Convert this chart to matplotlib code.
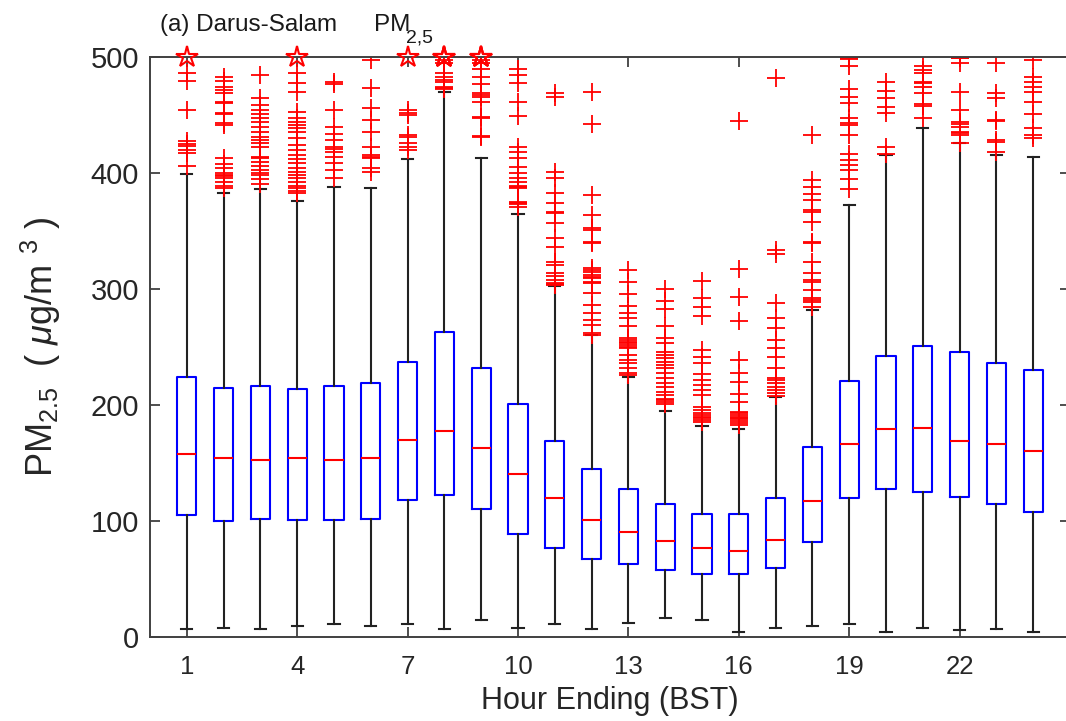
import matplotlib
matplotlib.use("Agg")
import matplotlib.pyplot as plt

plt.rcParams['font.family'] = ['Liberation Sans', 'DejaVu Sans']
plt.rcParams['mathtext.fontset'] = 'custom'
plt.rcParams['mathtext.rm'] = 'Liberation Sans'
plt.rcParams['mathtext.it'] = 'Liberation Sans:italic'

# hourly PM2.5 box statistics (ug/m3)
hours = list(range(1, 25))
med = [158, 154, 152.6, 154, 152.6, 154, 170, 178, 163, 140.5, 119.8, 100.9,
       90.5, 82.5, 77, 74.4, 83.6, 116.9, 166, 179, 180.5, 168.7, 166, 160.6]
q1 = [105, 100, 102, 101, 101, 102, 118, 122, 110, 89, 77, 67.5,
      62.6, 58, 54.6, 54.6, 59.8, 82.2, 119.5, 127.6, 124.7, 120.7, 115, 107.5]
q3 = [224, 215, 216, 213.5, 216, 219, 237, 263, 232, 200.6, 168.7, 144.8,
      127.6, 114.4, 106.3, 106.3, 119.8, 163.5, 221, 242, 251, 246, 236, 230]
whis_lo = [7, 8, 7, 9.5, 11, 9.5, 11, 7, 15, 8, 11, 7,
           12.4, 16, 15, 4, 8, 9.5, 11, 4, 8, 5.7, 7, 4]
whis_hi = [399, 383, 386, 376, 388, 387, 412, 470, 413, 365, 302.6, 260,
           224.4, 195, 182, 179, 207, 281.6, 372, 415.5, 439, 426, 415.5, 414]

# outliers per hour
fliers = [
    [486, 479, 454, 428, 425, 423, 420, 417, 406],
    [483, 479, 474, 471.6, 468.7, 461.5, 460, 452, 451, 443, 441, 412.6, 408,
     404, 400, 398, 397, 395.5, 392.5, 389, 387.5],
    [484.5, 464.4, 458.6, 454.3, 451, 447, 444, 439.4, 435.6, 431.3, 428.4,
     425.6, 422.7, 414, 412.6, 409.8, 406, 402.6, 399.7, 398.3, 394.5, 390.5],
    [486, 478, 470, 452.9, 447, 444, 441, 438.5, 435.6, 430, 424, 419.9, 415.5,
     411.8, 408.3, 404, 401, 398.3, 395.4, 392.5, 388.8, 386.8, 384.8, 382.5],
    [478.7, 476.7, 454.3, 440, 434, 428.4, 422.7, 420.4, 418.4, 414, 408.4,
     402.6, 395.4],
    [497.4, 473, 455.8, 445.7, 435.6, 422.7, 415.5, 414, 412.6, 404, 401],
    [454.3, 452, 450, 432.8, 431.3, 425.6, 422.7, 419.8],
    [497.4, 494.5, 486, 483, 480, 478.7, 474.4, 473, 472],
    [497.4, 494.5, 490, 483, 477, 468.7, 467, 465.8, 461.5, 448, 447, 432,
     431.3],
    [490, 484.5, 477.3, 461.5, 449, 422.7, 418.4, 412.6, 404.9, 399.7, 395.4,
     392.5, 389, 387.7, 386.8, 375.3, 374, 373.3, 371],
    [468.7, 465.8, 401.1, 395.4, 382.5, 373.9, 366.7, 365.2, 357.2, 343.7,
     336.5, 323.6, 320.7, 313.5, 311.2, 307.8, 305.5, 304.5, 303.4],
    [470, 442, 381, 363.8, 352.3, 350.9, 340.8, 339.4, 317.9, 316.4, 315,
     312.1, 310.6, 309.2, 306.3, 304.9, 296.3, 286.2, 279, 273.3, 269, 261.8,
     260.3],
    [316, 306, 296, 285.5, 279, 275, 268.2, 257.5, 256, 254.6, 253.2, 251.7,
     250.3, 248.9, 243.1, 238.8, 235.9, 231.6, 227.9, 226],
    [299.7, 289.7, 282.8, 268.1, 257.4, 253.7, 245.9, 243.1, 240.2, 237.3,
     234.4, 231.6, 227.3, 223.5, 218.7, 215.2, 211.5, 208.6, 205.1, 204.3,
     202.8, 201],
    [306.9, 291.9, 284.7, 276.7, 247.4, 241.7, 235.9, 226.4, 221.6, 217.2,
     212.9, 208.6, 198.6, 195.7, 192.8, 191.5, 189.9, 188.5, 187, 185],
    [445, 317, 293.4, 272.4, 238.8, 227.9, 220.1, 209.2, 202.9, 194.3, 192.8,
     191.4, 189.9, 188.7, 187.6, 186, 184.8, 182.8],
    [481.6, 333.6, 330.2, 288.2, 274.7, 266.1, 256, 248.9, 241.7, 231.6, 223,
     221.6, 219.3, 215.8, 212.9, 210, 207.8],
    [432.6, 393.7, 388, 381.6, 377, 368, 366, 358, 340.8, 339.4, 323.6, 313.5,
     307.8, 306.3, 299.1, 292, 290.5, 289.1, 284.2],
    [499, 498, 492, 472, 465.8, 460.6, 447, 443.3, 441.3, 432.6, 416.8, 411,
     406.6, 402.3, 395.1, 386.5],
    [478.7, 470.9, 464.3, 456.5, 451.4, 422.7, 416.4],
    [492.3, 488.8, 486, 478.7, 477.3, 473.9, 469.3, 459.5, 457.8, 447.2],
    [499, 498.9, 494.5, 470, 454.3, 444.3, 442.2, 439.4, 435.6, 434.2, 432.8,
     426.1],
    [494.5, 468.7, 464.4, 445.7, 445, 428.4, 427, 418.4],
    [497.4, 482.5, 478.7, 474.4, 470, 461.5, 450.9, 438.5, 432.8, 429.9],
]

# values above the 500 axis limit, drawn as stars on the top edge
capped_hours = [1, 4, 7, 8, 8, 8, 9, 9, 9]
y_cap = 500

fig = plt.figure(figsize=(10.66, 7.21), dpi=100)
ax = fig.add_axes([150 / 1066, 84 / 721, 920 / 1066, 580 / 721])

stats = []
for i, h in enumerate(hours):
    stats.append(dict(med=med[i], q1=q1[i], q3=q3[i],
                      whislo=whis_lo[i], whishi=whis_hi[i], fliers=fliers[i]))

ax.bxp(stats, positions=hours, widths=0.52, capwidths=0.3,
       boxprops=dict(color='#0000ff', linewidth=1.5),
       medianprops=dict(color='#ff0000', linewidth=1.5),
       whiskerprops=dict(color='#222222', linewidth=1.5, linestyle='-'),
       capprops=dict(color='#222222', linewidth=1.5),
       flierprops=dict(marker='+', markersize=12.5, markeredgewidth=1.3,
                       markeredgecolor='#ff0000', linestyle='none'),
       manage_ticks=False)

ax.plot(capped_hours, [y_cap] * len(capped_hours), linestyle='none',
        marker='*', markersize=16, markerfacecolor='none',
        markeredgecolor='#ff0000', markeredgewidth=1.5, clip_on=False, zorder=5)

ax.set_xlim(0, 25)
ax.set_ylim(0, 500)
ax.set_xticks([1, 4, 7, 10, 13, 16, 19, 22])
ax.set_yticks([0, 100, 200, 300, 400, 500])
ax.tick_params(axis='both', direction='in', length=7, width=1.3,
               color='#404040', top=True, right=True, labelcolor='#262626')
ax.tick_params(axis='x', labelsize=18.5, pad=13)
ax.tick_params(axis='y', labelsize=21, pad=8)
for sp in ax.spines.values():
    sp.set_color('#404040')
    sp.set_linewidth(1.4)

ax.xaxis.set_label_coords(0.48, -0.085)
ax.set_xlabel('Hour Ending (BST)', fontsize=22, color='#262626')
ax.set_ylabel(r'PM$_{2.5}$  ( $\mu$g/m $^{3}$ )', fontsize=26, color='#262626',
              labelpad=20)

ax.text(0.27, 528, '(a) Darus-Salam', fontsize=17.5, color='#1a1a1a',
        ha='left', va='center', clip_on=False)
ax.text(6.1, 528, 'PM', fontsize=17.5, color='#1a1a1a',
        ha='left', va='center', clip_on=False)
ax.text(6.95, 516, '2,5', fontsize=14, color='#1a1a1a',
        ha='left', va='center', clip_on=False)

fig.savefig('out.png', dpi=100)
